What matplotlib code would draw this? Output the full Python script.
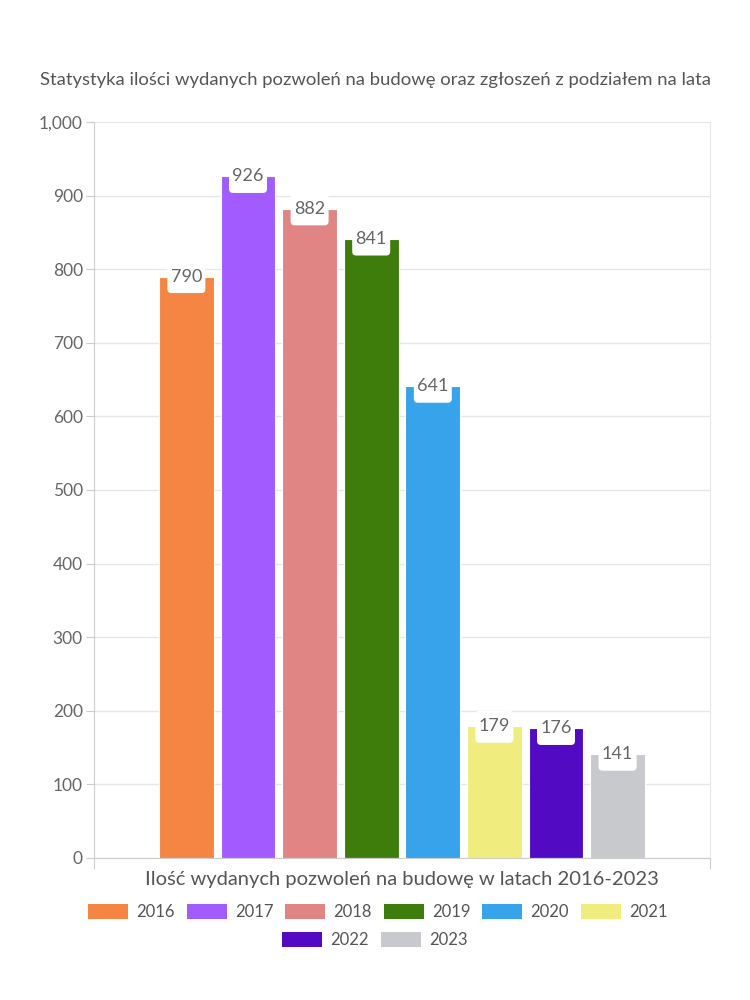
import matplotlib
matplotlib.use("Agg")
import matplotlib.pyplot as plt
from matplotlib.patches import Patch, FancyBboxPatch
from matplotlib.transforms import ScaledTranslation

plt.rcParams['font.family'] = ['Lato', 'DejaVu Sans']

years = ['2016', '2017', '2018', '2019', '2020', '2021', '2022', '2023']
values = [790, 926, 882, 841, 641, 179, 176, 141]
colors = ['#F58542', '#A25BFF', '#E08484', '#3E7D0C', '#37A3EA', '#F0EC7E', '#520BC2', '#C8C9CD']
title = 'Statystyka ilości wydanych pozwoleń na budowę oraz zgłoszeń z podziałem na lata'
xlabel = 'Ilość wydanych pozwoleń na budowę w latach 2016-2023'
yticks = [0, 100, 200, 300, 400, 500, 600, 700, 800, 900, 1000]

fig = plt.figure(figsize=(7.5, 10), dpi=100)
ax = fig.add_axes([94/750, 142/1000, 616/750, 736/1000])

step = 0.1
width = 0.089
n = len(values)
for i, (v, c) in enumerate(zip(values, colors)):
    x = (i - (n - 1) / 2) * step
    ax.bar(x, v, width=width, color=c, edgecolor='white', linewidth=0.8, zorder=2)
    tr = fig.dpi_scale_trans + ScaledTranslation(x, v, ax.transData)
    p = FancyBboxPatch((-0.17, -0.145), 0.34, 0.28,
                       boxstyle='round,pad=0.02,rounding_size=0.04',
                       fc='white', ec='none', transform=tr, zorder=4, clip_on=False)
    ax.add_patch(p)
    ax.text(x, v, f'{v}', ha='center', va='center', fontsize=13, color='#666666', zorder=5)

ax.set_xlim(-0.5, 0.5)
ax.set_ylim(0, 1000)
ax.set_yticks(yticks)
ax.set_yticklabels([f'{t:,}' for t in yticks])
ax.yaxis.grid(True, color='#e6e6e6', linewidth=1, zorder=0)
ax.set_axisbelow(True)
ax.spines['top'].set_visible(False)
ax.spines['right'].set_color('#e6e6e6')
ax.spines['left'].set_color('#cccccc')
ax.spines['bottom'].set_color('#cccccc')
ax.set_xticks([-0.5, 0.5])
ax.set_xticklabels(['', ''])
ax.tick_params(axis='x', length=8, color='#cccccc')
ax.tick_params(axis='y', length=6, color='#cccccc', labelsize=12.5, labelcolor='#666666', pad=2)

fig.text(375/750, 1 - 80/1000, title, ha='center', va='center', fontsize=13.3, color='#555555')
fig.text(402/750, 1 - 880/1000, xlabel, ha='center', va='center', fontsize=14.5, color='#555555')

handles = [Patch(facecolor=c, edgecolor='none') for c in colors]
common = dict(frameon=False, fontsize=12, handlelength=2.4, handleheight=1.05,
              handletextpad=0.5, columnspacing=0.7, labelcolor='#555555', borderpad=0, borderaxespad=0)
fig.legend(handles[:6], years[:6], ncol=6, loc='center',
           bbox_to_anchor=(378/750, 1 - 912/1000), **common)
fig.legend(handles[6:], years[6:], ncol=2, loc='center',
           bbox_to_anchor=(375/750, 1 - 940/1000), **common)

fig.savefig('out.png', dpi=100)
